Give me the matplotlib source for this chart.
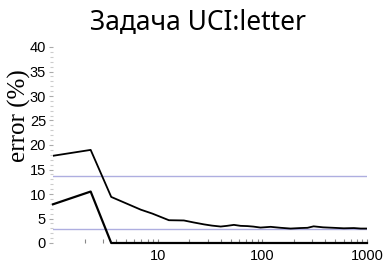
import matplotlib
matplotlib.use("Agg")
import matplotlib.pyplot as plt
from matplotlib.ticker import FixedLocator, NullFormatter, FuncFormatter

# data
rounds_test = [1, 2.29, 3.6, 6.9, 8.9, 12.8, 17.8, 22, 27.7, 33, 40, 46, 53.5, 62, 72, 82, 96,
               120, 150, 186, 230, 270, 309, 380, 480, 600, 750, 870, 1000]
test_err = [17.8, 19.0, 9.4, 6.8, 6.0, 4.65, 4.6, 4.2, 3.8, 3.55, 3.36, 3.5, 3.7, 3.5, 3.45, 3.35, 3.15,
            3.3, 3.1, 2.95, 3.05, 3.1, 3.4, 3.2, 3.1, 3.0, 3.05, 2.95, 2.95]
rounds_train = [1, 2.29, 3.6, 1000]
train_err = [7.9, 10.5, 0.0, 0.0]
ref_levels = [13.7, 2.95]

xticks = [10, 100, 1000]
xtick_labels = ["10", "100", "1000"]
yticks = [0, 5, 10, 15, 20, 25, 30, 35, 40]

fig = plt.figure(figsize=(3.88, 2.64), dpi=100)
ax = fig.add_axes([53/388, 1-243/264, (367-53)/388, (243-47)/264])

for lvl in ref_levels:
    ax.axhline(lvl, color="#aeaee0", lw=1.0, zorder=1)
ax.plot(rounds_test, test_err, color="black", lw=1.3, zorder=3)
ax.plot(rounds_train, train_err, color="black", lw=1.6, zorder=3, clip_on=False)

ax.set_xscale("log")
ax.set_xlim(1, 1000)
ax.set_ylim(0, 40)

for s in ["top", "right", "bottom", "left"]:
    ax.spines[s].set_visible(False)

ax.xaxis.set_major_locator(FixedLocator(xticks))
ax.xaxis.set_major_formatter(FuncFormatter(lambda v, p: xtick_labels[xticks.index(v)] if v in xticks else ""))
minor = [m * 10**e for e in range(0, 3) for m in range(2, 10)]
ax.xaxis.set_minor_locator(FixedLocator(minor))
ax.xaxis.set_minor_formatter(NullFormatter())
ax.tick_params(axis="x", which="both", direction="in", length=3, width=0.8, color="#888888",
               labelsize=10.5, pad=4)

ax.yaxis.set_major_locator(FixedLocator(yticks))
ax.yaxis.set_minor_locator(FixedLocator([v for v in range(0, 41) if v % 5]))
ax.tick_params(axis="y", which="major", direction="out", length=3, width=0.8, color="#aaaaaa",
               labelsize=10.5, pad=2)
ax.tick_params(axis="y", which="minor", direction="out", length=2, width=0.8, color="#cccccc")

for lab in ax.get_xticklabels() + ax.get_yticklabels():
    lab.set_fontfamily("Liberation Sans")

fig.text(197.5/388, 1-30/264, "Задача UCI:letter", ha="center", va="baseline",
         fontsize=19, family="Noto Sans")
fig.text(19/388, 1-116/264, "error (%)", rotation=90, ha="center", va="center",
         fontsize=18, family="Liberation Serif")

fig.savefig("out.png", dpi=100)
